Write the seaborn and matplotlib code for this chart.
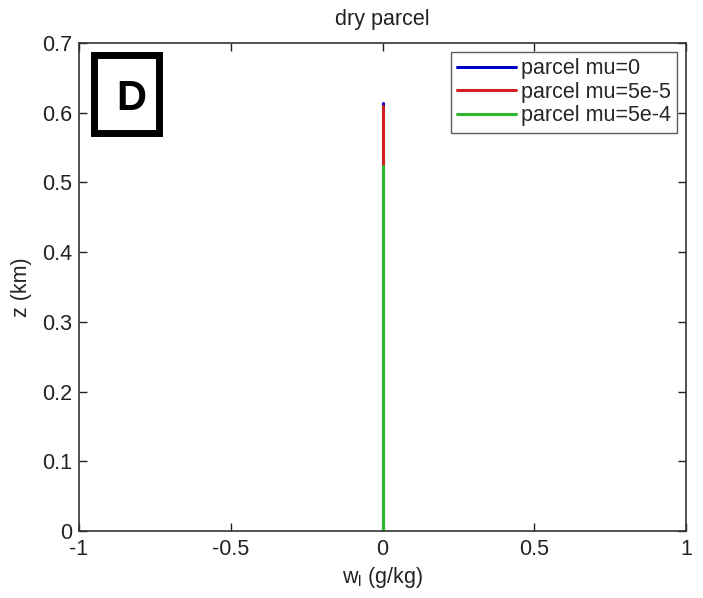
import pandas as pd
import numpy as np
import matplotlib.pyplot as plt
import seaborn as sns
from matplotlib.patches import Rectangle

# vertical profiles of liquid water for the dry parcel (all zero)
labels = ["parcel mu=0", "parcel mu=5e-5", "parcel mu=5e-4"]
z_km = [[0.0, 0.614], [0.0, 0.609], [0.0, 0.523]]
wl = [[0.0, 0.0], [0.0, 0.0], [0.0, 0.0]]
colors = ["#0000c8", "#d42020", "#2eb82e"]

x_ticks = [-1, -0.5, 0, 0.5, 1]
x_ticklabels = ["-1", "-0.5", "0", "0.5", "1"]
y_ticks = [0, 0.1, 0.2, 0.3, 0.4, 0.5, 0.6, 0.7]
y_ticklabels = ["0", "0.1", "0.2", "0.3", "0.4", "0.5", "0.6", "0.7"]

rows = []
for lab, zz, ww in zip(labels, z_km, wl):
    for z, w in zip(zz, ww):
        rows.append({"label": lab, "z": z, "w": w})
df = pd.DataFrame(rows)

sns.set_style("white")
plt.rcParams["font.family"] = ["Liberation Sans", "DejaVu Sans"]
fs = 15.5
txt = "#222222"

fig = plt.figure(figsize=(7.03, 5.98), dpi=100)
ax = fig.add_axes([79 / 703, 1 - 531 / 598, 607 / 703, 488 / 598])

sns.lineplot(data=df, x="w", y="z", hue="label", hue_order=labels,
             palette=colors, orient="y", sort=False, linewidth=2.2, ax=ax,
             estimator=None)

ax.set_xlim(-1, 1)
ax.set_ylim(0, 0.7)
ax.set_xticks(x_ticks)
ax.set_xticklabels(x_ticklabels)
ax.set_yticks(y_ticks)
ax.set_yticklabels(y_ticklabels)
ax.tick_params(direction="in", length=6, width=1, labelsize=fs, colors=txt,
               top=True, right=True, bottom=True, left=True)
ax.tick_params(axis="x", pad=6)
ax.tick_params(axis="y", pad=5)
for sp in ax.spines.values():
    sp.set_color("#333333")
    sp.set_linewidth(1.2)

ax.set_xlabel(r"w$_\mathregular{l}$ (g/kg)", fontsize=fs, color=txt, labelpad=3)
ax.set_ylabel("z (km)", fontsize=fs, color=txt, labelpad=7)
ax.set_title("dry parcel", fontsize=fs, color=txt, pad=13)

leg = ax.legend(loc="upper right", fontsize=fs, frameon=True, fancybox=False,
                handlelength=2.7, handletextpad=0.25, borderpad=0.3,
                labelspacing=0.12, borderaxespad=0.4)
leg.get_frame().set_edgecolor("#333333")
leg.get_frame().set_linewidth(1.0)
for h in leg.get_lines():
    h.set_linewidth(2.2)

# panel letter box
ax.add_patch(Rectangle((0.0239, 0.8146), 0.1087, 0.1598,
                       transform=ax.transAxes, fill=False, edgecolor="black",
                       linewidth=5, joinstyle="miter", zorder=5))
ax.text(0.0865, 0.8627, "D", transform=ax.transAxes, ha="center",
        va="baseline", fontsize=30, fontweight="bold", zorder=6, color="black")

fig.savefig("out.png", dpi=100)
